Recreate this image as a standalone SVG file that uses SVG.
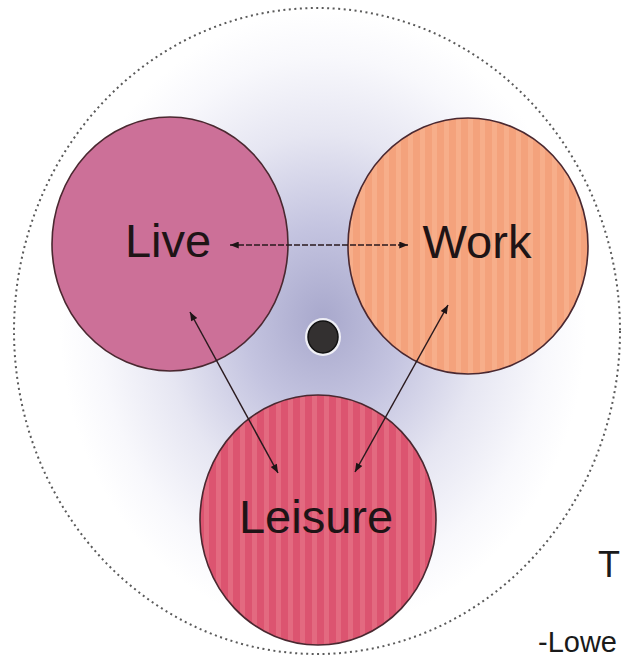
<svg xmlns="http://www.w3.org/2000/svg" width="621" height="664" viewBox="0 0 621 664">
<style>
.node{stroke:#4a2830;stroke-width:1.6}
.lbl{font-family:"Liberation Sans",Arial,sans-serif;font-size:47px;fill:#1e1416;text-anchor:middle}
.con{stroke:#2a1a1e;stroke-width:1.5;fill:none}
.side{font-family:"Liberation Sans",Arial,sans-serif;fill:#1a1a1a}
</style>
<defs>
<radialGradient id="glow" cx="323" cy="320" r="310" gradientUnits="userSpaceOnUse" gradientTransform="translate(323 320) scale(0.85 1) translate(-323 -320)">
<stop offset="0" stop-color="#a8a8cc"/>
<stop offset="0.3" stop-color="#c4c4e0"/>
<stop offset="0.6" stop-color="#e6e6f2"/>
<stop offset="0.85" stop-color="#f8f8fc"/>
<stop offset="1" stop-color="#ffffff"/>
</radialGradient>
<pattern id="stripesL" width="12" height="20" patternUnits="userSpaceOnUse">
<rect width="12" height="20" fill="#dc5470"/>
<rect x="0" width="5" height="20" fill="#e36a80"/>
</pattern>
<pattern id="stripesW" width="12" height="20" patternUnits="userSpaceOnUse">
<rect width="12" height="20" fill="#f4a27c"/>
<rect x="0" width="5" height="20" fill="#f7ae8a"/>
</pattern>
<marker id="ah" viewBox="0 0 10 8" refX="10" refY="4" markerWidth="10" markerHeight="7" markerUnits="userSpaceOnUse" orient="auto-start-reverse">
<path d="M0,0 L10,4 L0,8 Z" fill="#1e1416"/>
</marker>
</defs>
<rect width="621" height="664" fill="#ffffff"/>
<ellipse cx="317" cy="331" rx="303" ry="323" fill="url(#glow)"/>
<ellipse cx="317" cy="331" rx="303" ry="323" fill="none" stroke="#5a5a5a" stroke-width="2" stroke-dasharray="2 3.5"/>
<g id="live"><ellipse class="node" cx="170" cy="244" rx="118" ry="127" fill="#cc7098"/><text class="lbl" x="168" y="257">Live</text></g>
<g id="work"><ellipse class="node" cx="468" cy="246" rx="120" ry="128" fill="url(#stripesW)"/><text class="lbl" x="477" y="258">Work</text></g>
<g id="leisure"><ellipse class="node" cx="318" cy="520" rx="118" ry="125" fill="url(#stripesL)"/><text class="lbl" x="316" y="533">Leisure</text></g>
<g id="hub"><ellipse cx="323" cy="337" rx="18" ry="19" fill="#ffffff" opacity="0.8"/><ellipse cx="323" cy="337" rx="15" ry="16" fill="#333030" stroke="#111" stroke-width="1.5"/></g>
<g id="connectors">
<line class="con" x1="230" y1="245" x2="408" y2="245" stroke-dasharray="6 2" marker-start="url(#ah)" marker-end="url(#ah)"/>
<line class="con" x1="190" y1="312" x2="278" y2="473" marker-start="url(#ah)" marker-end="url(#ah)"/>
<line class="con" x1="448" y1="305" x2="355" y2="472" marker-start="url(#ah)" marker-end="url(#ah)"/>
</g>
<text class="side" x="598" y="577" font-size="36">T</text>
<text class="side" x="538" y="652" font-size="29">-Lowe</text>
</svg>
